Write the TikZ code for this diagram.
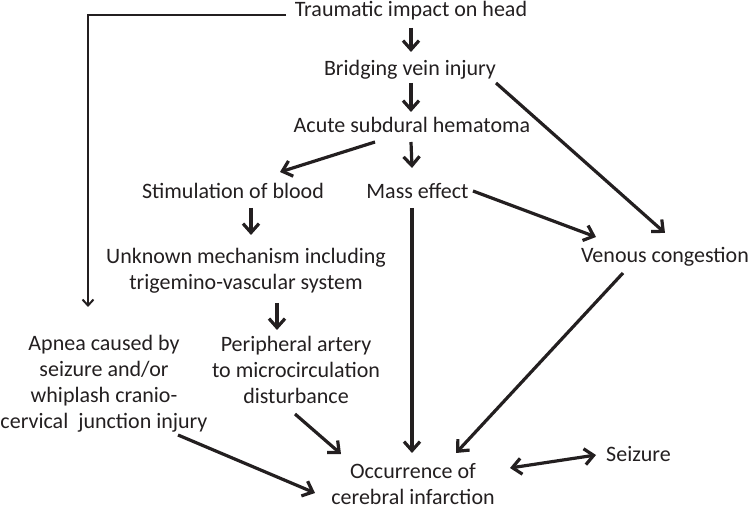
\documentclass[tikz,border=0pt]{standalone}
\usepackage{fontspec}
\setmainfont{Carlito}
\usetikzlibrary{arrows.meta,calc}
\definecolor{ink}{HTML}{231F20}
\begin{document}
\begin{tikzpicture}[x=1pt,y=-1pt,
  lbl/.style={inner sep=0pt,anchor=base,align=center,text=ink,font=\fontsize{22}{26}\selectfont},
  arr/.style={draw=ink,line width=3.2pt,-{Straight Barb[length=9pt,width=16pt,line width=3.2pt]}},
  darr/.style={draw=ink,line width=3.2pt,{Straight Barb[length=9pt,width=16pt,line width=3.2pt]}-{Straight Barb[length=9pt,width=16pt,line width=3.2pt]}},
  thin/.style={draw=ink,line width=2pt,-{Straight Barb[length=6pt,width=11pt,line width=2pt]}}]
\useasboundingbox (0,0) rectangle (756,510);
% base anchor = baseline of the last line
\node[lbl] (T) at (411,17) {Traumatic impact on head};
\node[lbl] (B) at (410,76) {Bridging vein injury};
\node[lbl] (A) at (412,133) {Acute subdural hematoma};
\node[lbl] (S) at (233,199) {Stimulation of blood};
\node[lbl] (M) at (417.5,199) {Mass effect};
\node[lbl] (U) at (246,290) {Unknown mechanism including\\trigemino-vascular system};
\node[lbl] (V) at (665,263) {Venous congestion};
\node[lbl] (Ap) at (104,429) {Apnea caused by\\seizure and/or\\whiplash cranio-\\cervical\ \ junction injury};
\node[lbl] (P) at (296,404) {Peripheral artery\\to microcirculation\\disturbance};
\node[lbl] (O) at (413,505) {Occurrence of\\cerebral infarction};
\node[lbl] (Sz) at (638.5,462) {Seizure};
\draw[arr] ($(T.base)+(0,11)$) -- ($(B.base)+(1,-24)$);
\draw[arr] ($(B.base)+(1,7)$) -- ($(A.base)+(-1,-21)$);
\draw[arr] ($(A.base)+(-1,9)$) -- ($(M.base)+(-5.5,-31)$);
\draw[arr] ($(A.base)+(-37,9)$) -- ($(S.base)+(47,-27)$);
\draw[arr] ($(B.base)+(86,7)$) -- ($(V.base)+(0,-30)$);
\draw[arr] ($(M.base)+(55.5,-8)$) -- ($(V.base)+(-69,-26)$);
\draw[arr] ($(S.base)+(18,9)$) -- ($(U.base)+(5,-55)$);
\draw[arr] ($(U.base)+(31,13)$) -- ($(P.base)+(-19,-74)$);
\draw[arr] ($(M.base)+(-5.5,9)$) -- ($(O.base)+(-1,-52)$);
\draw[arr] ($(V.base)+(-42,10)$) -- ($(O.base)+(43,-52)$);
\draw[arr] ($(P.base)+(-1,10)$) -- ($(O.base)+(-72,-51)$);
\draw[arr] ($(Ap.base)+(74,6)$) -- ($(O.base)+(-98,-12)$);
\draw[darr] ($(O.base)+(97,-37)$) -- ($(Sz.base)+(-42.5,-7)$);
\draw[thin] ($(T.base)+(-125,-2)$) -| ($(Ap.base)+(-16,-122)$);
\end{tikzpicture}
\end{document}
